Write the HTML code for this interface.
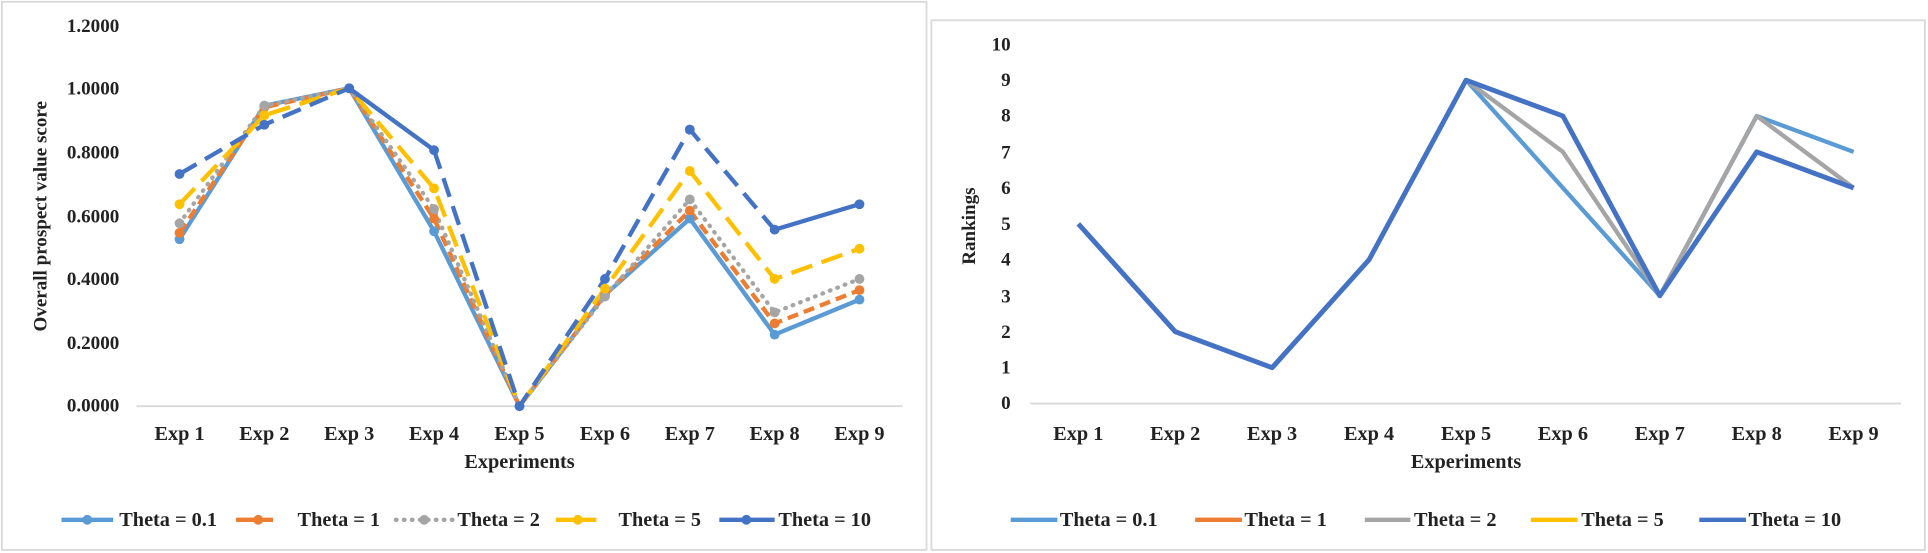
<!DOCTYPE html>
<html><head><meta charset="utf-8"><style>
html,body{margin:0;padding:0;background:#fff;}
svg{display:block;}
text{font-family:"Liberation Serif",serif;font-weight:bold;fill:#222;}
</style></head><body>
<svg width="1928" height="553" viewBox="0 0 1568 450" preserveAspectRatio="none" xmlns="http://www.w3.org/2000/svg">
<rect x="0" y="0" width="1568" height="450" fill="#fff"/>
<rect x="1.5" y="1.5" width="752" height="446" fill="none" stroke="#d9d9d9" stroke-width="1.5"/>
<rect x="757.5" y="16.5" width="808" height="431" fill="none" stroke="#d9d9d9" stroke-width="1.5"/>

<!-- LEFT CHART -->
<line x1="111" y1="330.5" x2="734" y2="330.5" stroke="#d9d9d9" stroke-width="1.5"/>
<g font-size="15.5" text-anchor="end">
<text x="97" y="26">1.2000</text><text x="97" y="77">1.0000</text><text x="97" y="129">0.8000</text>
<text x="97" y="181">0.6000</text><text x="97" y="232">0.4000</text><text x="97" y="284">0.2000</text><text x="97" y="335">0.0000</text>
</g>
<text font-size="15.5" transform="translate(38,176) rotate(-90)" text-anchor="middle">Overall prospect value score</text>
<g font-size="16.5" text-anchor="middle">
<text x="146" y="358">Exp 1</text><text x="215" y="358">Exp 2</text><text x="284" y="358">Exp 3</text>
<text x="353" y="358">Exp 4</text><text x="422.5" y="358">Exp 5</text><text x="492" y="358">Exp 6</text>
<text x="561" y="358">Exp 7</text><text x="630" y="358">Exp 8</text><text x="699" y="358">Exp 9</text>
<text x="422.5" y="381">Experiments</text>
</g>
<g fill="none" stroke-width="3.5" stroke-linejoin="round">
<polyline stroke="#5B9BD5" points="146,194.7 215,86 284,71.8 353,188.2 422.5,330.5 492,240 561,177.9 630,272.3 699,243.8"/>
<polyline stroke="#ED7D31" stroke-dasharray="9,5" points="146,189.5 215,87.3 284,71.8 353,177.9 422.5,330.5 492,240 561,171.4 630,263.2 699,236.1"/>
<polyline stroke="#A5A5A5" stroke-dasharray="0.5,6" stroke-linecap="round" points="146,181.7 215,86 284,71.8 353,170.1 422.5,330.5 492,241.3 561,162.3 630,254.2 699,227"/>
<polyline stroke="#FFC000" stroke-dasharray="18,8" points="146,166.2 215,93.8 284,71.8 353,153.3 422.5,330.5 492,234.8 561,139.1 630,227 699,202.4"/>
<polyline stroke="#4472C4" stroke-dasharray="16,8" points="146,141.6 215,101.5 284,71.8"/>
<polyline stroke="#4472C4" points="284,71.8 353,122.2"/>
<polyline stroke="#4472C4" stroke-dasharray="16,8" points="353,122.2 422.5,330.5 492,227 561,105.4 630,186.9"/>
<polyline stroke="#4472C4" points="630,186.9 699,166.2"/>
</g>
<g fill="#5B9BD5"><circle cx="146" cy="194.7" r="4"/><circle cx="215" cy="86" r="4"/><circle cx="284" cy="71.8" r="4"/><circle cx="353" cy="188.2" r="4"/><circle cx="422.5" cy="330.5" r="4"/><circle cx="492" cy="240" r="4"/><circle cx="561" cy="177.9" r="4"/><circle cx="630" cy="272.3" r="4"/><circle cx="699" cy="243.8" r="4"/></g>
<g fill="#ED7D31"><circle cx="146" cy="189.5" r="4"/><circle cx="215" cy="87.3" r="4"/><circle cx="353" cy="177.9" r="4"/><circle cx="492" cy="240" r="4"/><circle cx="561" cy="171.4" r="4"/><circle cx="630" cy="263.2" r="4"/><circle cx="699" cy="236.1" r="4"/></g>
<g fill="#A5A5A5"><circle cx="146" cy="181.7" r="4"/><circle cx="215" cy="86" r="4"/><circle cx="353" cy="170.1" r="4"/><circle cx="492" cy="241.3" r="4"/><circle cx="561" cy="162.3" r="4"/><circle cx="630" cy="254.2" r="4"/><circle cx="699" cy="227" r="4"/></g>
<g fill="#FFC000"><circle cx="146" cy="166.2" r="4"/><circle cx="215" cy="93.8" r="4"/><circle cx="353" cy="153.3" r="4"/><circle cx="492" cy="234.8" r="4"/><circle cx="561" cy="139.1" r="4"/><circle cx="630" cy="227" r="4"/><circle cx="699" cy="202.4" r="4"/></g>
<g fill="#4472C4"><circle cx="146" cy="141.6" r="4"/><circle cx="215" cy="101.5" r="4"/><circle cx="284" cy="71.8" r="4"/><circle cx="353" cy="122.2" r="4"/><circle cx="422.5" cy="330.5" r="4"/><circle cx="492" cy="227" r="4"/><circle cx="561" cy="105.4" r="4"/><circle cx="630" cy="186.9" r="4"/><circle cx="699" cy="166.2" r="4"/></g>
<!-- left legend -->
<g stroke-width="3.5" fill="none">
<line x1="50" y1="423" x2="92" y2="423" stroke="#5B9BD5"/>
<line x1="192" y1="423" x2="222" y2="423" stroke="#ED7D31"/>
<line x1="322" y1="423" x2="368" y2="423" stroke="#A5A5A5" stroke-dasharray="0.5,6" stroke-linecap="round"/>
<line x1="452" y1="423" x2="485" y2="423" stroke="#FFC000"/>
<line x1="585" y1="423" x2="630" y2="423" stroke="#4472C4"/>
</g>
<circle cx="71" cy="423" r="4" fill="#5B9BD5"/><circle cx="210" cy="423" r="4" fill="#ED7D31"/><circle cx="345" cy="423" r="4" fill="#A5A5A5"/><circle cx="470" cy="423" r="4" fill="#FFC000"/><circle cx="607" cy="423" r="4" fill="#4472C4"/>
<g font-size="16.5">
<text x="97" y="428">Theta = 0.1</text><text x="242" y="428">Theta = 1</text><text x="372" y="428">Theta = 2</text>
<text x="503" y="428">Theta = 5</text><text x="633" y="428">Theta = 10</text>
</g>

<!-- RIGHT CHART -->
<line x1="838" y1="328.4" x2="1546" y2="328.4" stroke="#d9d9d9" stroke-width="1.5"/>
<g font-size="15.5" text-anchor="end">
<text x="822" y="41">10</text><text x="822" y="70">9</text><text x="822" y="99">8</text><text x="822" y="129">7</text>
<text x="822" y="158">6</text><text x="822" y="187">5</text><text x="822" y="216">4</text><text x="822" y="246">3</text>
<text x="822" y="275">2</text><text x="822" y="304">1</text><text x="822" y="333">0</text>
</g>
<text font-size="15.5" transform="translate(793,184) rotate(-90)" text-anchor="middle">Rankings</text>
<g font-size="16.5" text-anchor="middle">
<text x="877" y="358">Exp 1</text><text x="955.8" y="358">Exp 2</text><text x="1034.6" y="358">Exp 3</text>
<text x="1113.4" y="358">Exp 4</text><text x="1192.3" y="358">Exp 5</text><text x="1271.1" y="358">Exp 6</text>
<text x="1349.9" y="358">Exp 7</text><text x="1428.7" y="358">Exp 8</text><text x="1507.5" y="358">Exp 9</text>
<text x="1192.3" y="381">Experiments</text>
</g>
<g fill="none" stroke-width="3.5" stroke-linejoin="round">
<polyline stroke="#5B9BD5" points="877,182.2 955.8,269.9 1034.6,299.2 1113.4,211.4 1192.3,65.2 1271.1,152.9 1349.9,240.7 1428.7,94.4 1507.5,123.6"/>
<polyline stroke="#A5A5A5" points="877,182.2 955.8,269.9 1034.6,299.2 1113.4,211.4 1192.3,65.2 1271.1,123.6 1349.9,240.7 1428.7,94.4 1507.5,152.9"/>
<polyline stroke="#4472C4" stroke-width="4" points="877,182.2 955.8,269.9 1034.6,299.2 1113.4,211.4 1192.3,65.2 1271.1,94.4 1349.9,240.7 1428.7,123.6 1507.5,152.9"/>
</g>
<g stroke-width="3.5">
<line x1="822" y1="423" x2="860" y2="423" stroke="#5B9BD5"/>
<line x1="972" y1="423" x2="1010" y2="423" stroke="#ED7D31"/>
<line x1="1110" y1="423" x2="1147" y2="423" stroke="#A5A5A5"/>
<line x1="1245" y1="423" x2="1283" y2="423" stroke="#FFC000"/>
<line x1="1382" y1="423" x2="1420" y2="423" stroke="#4472C4"/>
</g>
<g font-size="16.5">
<text x="862" y="428">Theta = 0.1</text><text x="1012" y="428">Theta = 1</text><text x="1150" y="428">Theta = 2</text>
<text x="1286" y="428">Theta = 5</text><text x="1422" y="428">Theta = 10</text>
</g>
</svg>
</body></html>
